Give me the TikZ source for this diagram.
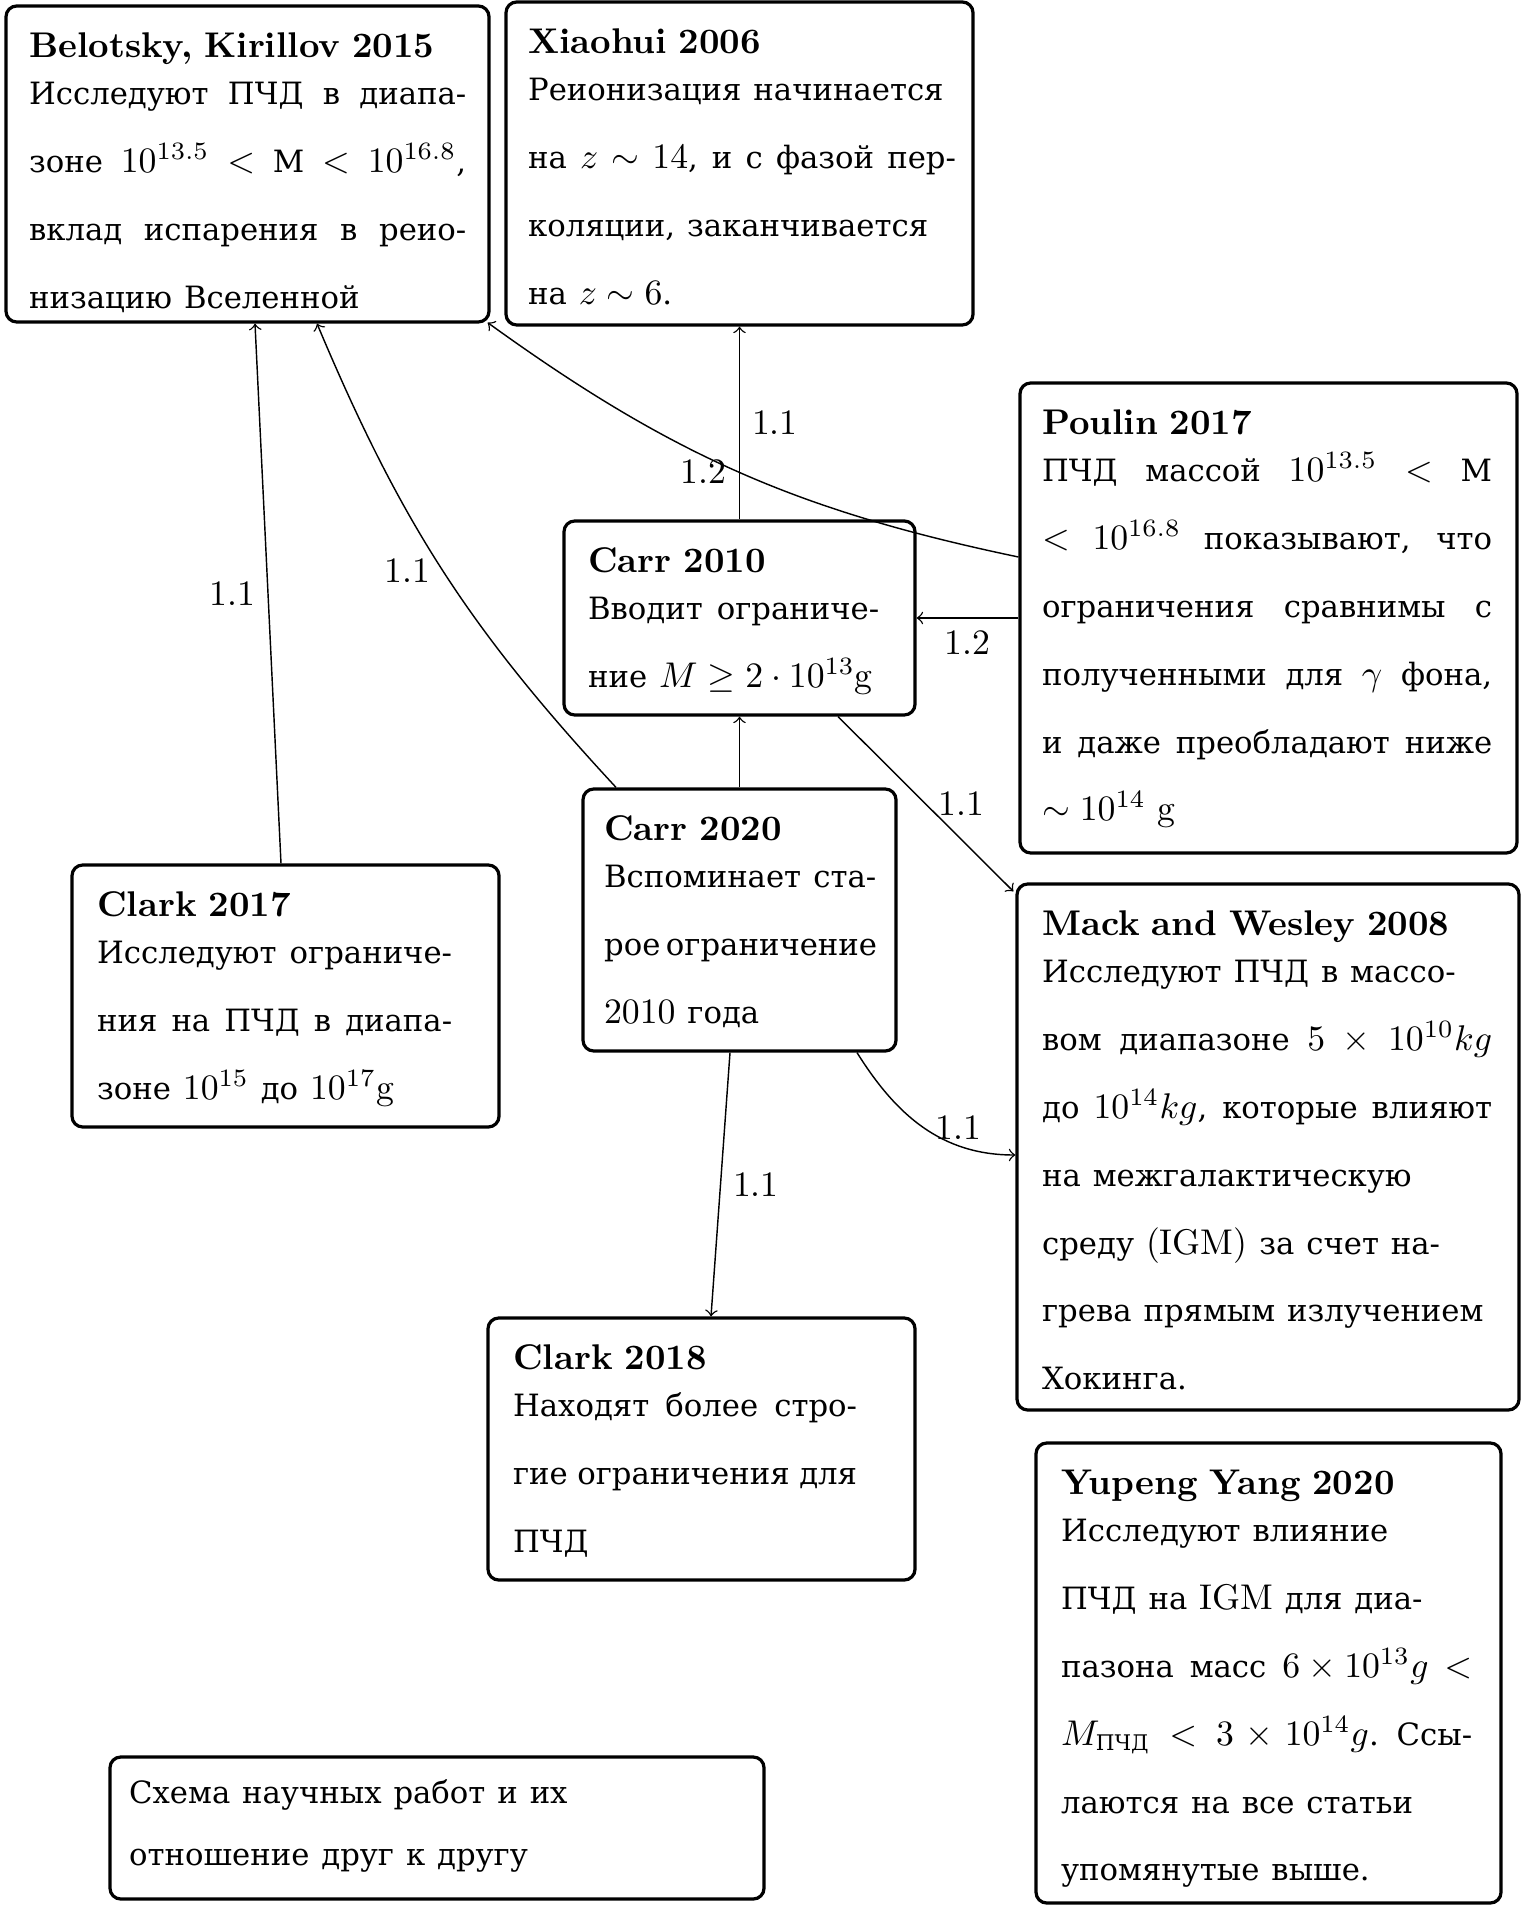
\documentclass[tikz,border=0pt]{standalone}
\usepackage{amsmath}
\usepackage{fontspec}
\newfontfamily\cyr[Scale=0.86]{DejaVu Serif}
\usetikzlibrary{fit,calc}
\newcommand{\jl}[1]{\leavevmode\hbox to \hsize{\spaceskip=0.33em plus 3em minus 0.15em\relax #1}}
\newcommand{\rl}[1]{\leavevmode\hbox{#1}}
\newcommand{\ttl}[1]{\rule{0pt}{8pt}\textbf{#1}\\[-5.7pt]\cyr}
\tikzset{
  box/.style={draw, line width=0.9pt, rounded corners=3pt, inner sep=0pt},
  txt/.style={anchor=north west, inner sep=0pt, font=\fontsize{10}{19}\selectfont},
  conn/.style={->, line width=0.4pt},
  lbl/.style={font=\fontsize{10}{12}\selectfont}
}
\begin{document}
\begin{tikzpicture}[x=0.28pt, y=-0.28pt]
\useasboundingbox (0,0) rectangle (1521,1905);
% boxes
\node[box, fit={(6,6) (489,322)}] (bel) {};
\node[box, fit={(506,2) (973,325)}] (xiao) {};
\node[box, fit={(1020,383) (1517,853)}] (poulin) {};
\node[box, fit={(564,521) (915,715)}] (carr10) {};
\node[box, fit={(583,789) (896,1051)}] (carr20) {};
\node[box, fit={(72,865) (499,1127)}] (clark17) {};
\node[box, fit={(1017,884) (1519,1410)}] (mack) {};
\node[box, fit={(488,1318) (915,1580)}] (clark18) {};
\node[box, fit={(1036,1443) (1501,1903)}] (yang) {};
\node[box, fit={(110,1757) (764,1899)}] (sch) {};
% texts
\node[txt, text width=122.4pt] (belT) at ($(bel.north west)+(24,23.4)$) {\ttl{Belotsky, Kirillov 2015}%
\jl{Исследуют ПЧД в диапа-}\\
\jl{зоне $10^{13.5}$ $<$ М $<$ $10^{16.8}$,}\\
\jl{вклад испарения в реио-}\\
\rl{низацию Вселенной}};
\node[txt, text width=119.8pt] (xiaoT) at ($(xiao.north west)+(23,23.4)$) {\ttl{Xiaohui 2006}%
\rl{Реионизация начинается}\\
\jl{на $z$ $\sim$ $14$, и с фазой пер-}\\
\rl{коляции, заканчивается}\\
\rl{на $z\sim 6$.}};
\node[txt, text width=126pt] (poulinT) at ($(poulin.north west)+(23,23.4)$) {\ttl{Poulin 2017}%
\jl{ПЧД массой $10^{13.5}$ $<$ М}\\
\jl{$<$ $10^{16.8}$ показывают, что}\\
\jl{ограничения сравнимы с}\\
\jl{полученными для $\gamma$ фона,}\\
\jl{и даже преобладают ниже}\\
\rl{$\sim 10^{14}$ {\rmfamily g}}};
\node[txt, text width=81.5pt] (carr10T) at ($(carr10.north west)+(25,23.4)$) {\ttl{Carr 2010}%
\jl{Вводит ограниче-}\\
\rl{ние $M \geq 2\cdot 10^{13}${\rmfamily g}}};
\node[txt, text width=76.2pt] (carr20T) at ($(carr20.north west)+(22,23.4)$) {\ttl{Carr 2020}%
\jl{Вспоминает ста-}\\
\jl{рое ограничение}\\
\rl{$2010$ года}};
\node[txt, text width=99.4pt] (clark17T) at ($(clark17.north west)+(26,23.4)$) {\ttl{Clark 2017}%
\jl{Исследуют ограниче-}\\
\jl{ния на ПЧД в диапа-}\\
\rl{зоне $10^{15}$ до $10^{17}${\rmfamily g}}};
\node[txt, text width=126pt] (mackT) at ($(mack.north west)+(26,23.4)$) {\ttl{Mack and Wesley 2008}%
\rl{Исследуют ПЧД в массо-}\\
\jl{вом диапазоне $5$ $\times$ $10^{10}kg$}\\
\jl{до $10^{14}kg$, которые влияют}\\
\rl{на межгалактическую}\\
\rl{среду {\rmfamily(IGM)} за счет на-}\\
\rl{грева прямым излучением}\\
\rl{Хокинга.}};
\node[txt, text width=96.3pt] (clark18T) at ($(clark18.north west)+(26,23.4)$) {\ttl{Clark 2018}%
\jl{Находят более стро-}\\
\jl{гие ограничения для}\\
\rl{ПЧД}};
\node[txt, text width=115.1pt] (yangT) at ($(yang.north west)+(26,23.4)$) {\ttl{Yupeng Yang 2020}%
\rl{Исследуют влияние}\\
\rl{ПЧД на {\rmfamily IGM} для диа-}\\
\jl{пазона масс $6\times 10^{13}g$ $<$}\\
\jl{$M_{\text{ПЧД}} < 3\times 10^{14}g$. Ссы-}\\
\rl{лаются на все статьи}\\
\rl{упомянутые выше.}};
\node[txt, text width=140pt, font=\fontsize{10}{17.6}\selectfont] (schT) at ($(sch.north west)+(20,18.4)$) {\cyr\rule{0pt}{8pt}\rl{Схема научных работ и их}\\
\rl{отношение друг к другу}};
% connectors
\draw[conn] ($(clark17.north)+(-4.5,0)$) -- node[lbl, midway, left] {1.1} ($(bel.south)+(7.5,0)$);
\draw[conn] ($(carr20.north)+(-123.5,0)$) to[bend left=10] node[lbl, midway, left] {1.1} ($(bel.south)+(69.5,0)$);
\draw[conn] ($(poulin.west)+(0,-61)$) to[bend left=12] node[lbl, midway, left] {1.2} ($(bel.south east)+(-3,-1)$);
\draw[conn] (carr10.north) -- node[lbl, midway, right] {1.1} (xiao.south);
\draw[conn] (poulin.west |- carr10.east) -- node[lbl, midway, below] {1.2} (carr10.east);
\draw[conn] (carr20.north) -- (carr10.south);
\draw[conn] ($(carr10.south)+(98.5,0)$) -- node[lbl, midway, right] {1.1} ($(mack.north west)+(-2,9)$);
\draw[conn] ($(carr20.south)+(117.5,0)$) to[out=-58, in=180] node[lbl, midway, right] {1.1} ($(mack.west)+(0,8)$);
\draw[conn] ($(carr20.south)+(-9.5,0)$) -- node[lbl, midway, right] {1.1} ($(clark18.north)+(9.5,0)$);
\end{tikzpicture}
\end{document}
